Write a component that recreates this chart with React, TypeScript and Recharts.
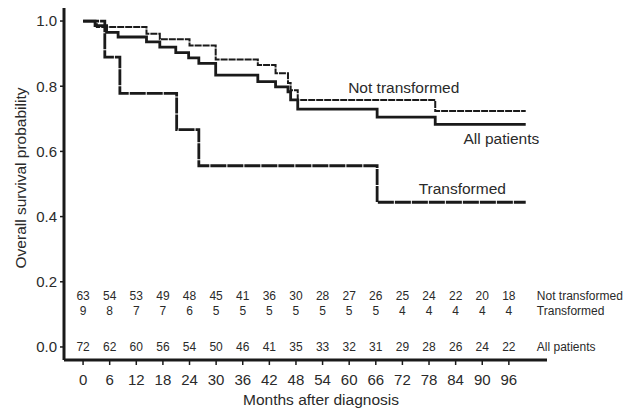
import { ComposedChart, Line, Scatter, XAxis, YAxis } from 'recharts'

// axis ticks
const MONTH_TICKS = [0, 6, 12, 18, 24, 30, 36, 42, 48, 54, 60, 66, 72, 78, 84, 90, 96]
const SURV_TICKS = [0, 0.2, 0.4, 0.6, 0.8, 1.0]

// Kaplan-Meier steps (month, survival)
const NOT_TRANS_MONTHS = [0, 2.7, 3.1, 14.3, 17.3, 24, 29.9, 39.4, 43.4, 46.2, 46.8, 48.4, 79.4, 99.8]
const NOT_TRANS_SURV = [1.0, 0.99, 0.982, 0.961, 0.944, 0.925, 0.882, 0.865, 0.84, 0.81, 0.788, 0.758, 0.724, 0.724]

const ALL_MONTHS = [0, 2.7, 5.3, 7.9, 14.3, 17.3, 20.9, 23.8, 26.1, 29.9, 39.4, 43.4, 46.2, 46.8, 48.4, 66.3, 79.4, 99.8]
const ALL_SURV = [1.0, 0.986, 0.965, 0.951, 0.936, 0.92, 0.903, 0.887, 0.87, 0.834, 0.814, 0.798, 0.783, 0.758, 0.73, 0.705, 0.683, 0.683]

const TRANS_MONTHS = [0, 4.9, 8.3, 21.1, 26.1, 66.3, 99.8]
const TRANS_SURV = [1.0, 0.889, 0.778, 0.667, 0.556, 0.444, 0.444]

// numbers at risk, one per month tick
const RISK_NOT_TRANS = [63, 54, 53, 49, 48, 45, 41, 36, 30, 28, 27, 26, 25, 24, 22, 20, 18]
const RISK_TRANS = [9, 8, 7, 7, 6, 5, 5, 5, 5, 5, 5, 5, 4, 4, 4, 4, 4]
const RISK_ALL = [72, 62, 60, 56, 54, 50, 46, 41, 35, 33, 32, 31, 29, 28, 26, 24, 22]

// curve annotations (month, survival, text)
const CURVE_LABELS = [
  { month: 72.3, surv: 0.797, text: 'Not transformed' },
  { month: 94.3, surv: 0.64, text: 'All patients' },
  { month: 85.5, surv: 0.487, text: 'Transformed' },
]

const FONT = '"Liberation Sans", Arial, sans-serif'
const INK = '#1a1a1a'
const TEXT = '#2a2a2a'

const toSteps = (months: number[], surv: number[]) =>
  months.map((m, i) => ({ month: m, surv: surv[i] }))

const riskRow = (counts: number[], level: number, name: string) =>
  MONTH_TICKS.map((m, i) => ({
    month: m,
    surv: level,
    n: counts[i],
    name: i === counts.length - 1 ? name : '',
  }))

const RiskCell = (props: any) => {
  const { cx, cy, payload } = props
  return (
    <g>
      <text x={cx} y={cy} textAnchor="middle" dominantBaseline="central" fontSize={12} fill={TEXT} fontFamily={FONT}>
        {payload.n}
      </text>
      {payload.name && (
        <text x={cx + 28} y={cy} textAnchor="start" dominantBaseline="central" fontSize={12} fill={TEXT} fontFamily={FONT}>
          {payload.name}
        </text>
      )}
    </g>
  )
}

const CurveLabel = (props: any) => (
  <text x={props.cx} y={props.cy} textAnchor="middle" dominantBaseline="central" fontSize={15.5} fill={TEXT} fontFamily={FONT}>
    {props.payload.text}
  </text>
)

export default function App() {
  return (
    <div style={{ position: 'absolute', left: 0, top: 0, width: 636, height: 411, background: '#fff', fontFamily: FONT }}>
      <ComposedChart width={636} height={411} margin={{ top: 8, right: 89, bottom: 21, left: 0 }}>
        <XAxis
          type="number"
          dataKey="month"
          domain={[-4.3, 104.6]}
          ticks={MONTH_TICKS}
          height={30}
          tickSize={5}
          tickMargin={9}
          stroke={INK}
          axisLine={{ stroke: INK, strokeWidth: 3 }}
          tickLine={{ stroke: INK, strokeWidth: 1.5 }}
          tick={{ fill: TEXT, fontSize: 15, fontFamily: FONT }}
        />
        <YAxis
          type="number"
          dataKey="surv"
          domain={[-0.04, 1.04]}
          ticks={SURV_TICKS}
          width={64}
          tickSize={4}
          tickMargin={3}
          tickFormatter={(v: number) => v.toFixed(1)}
          axisLine={{ stroke: INK, strokeWidth: 3 }}
          tickLine={{ stroke: INK, strokeWidth: 1.5 }}
          tick={{ fill: TEXT, fontSize: 15, fontFamily: FONT }}
        />
        <Line
          data={toSteps(TRANS_MONTHS, TRANS_SURV)}
          dataKey="surv"
          type="stepAfter"
          stroke={INK}
          strokeWidth={2.8}
          strokeDasharray="16 1"
          dot={false}
          isAnimationActive={false}
        />
        <Line
          data={toSteps(ALL_MONTHS, ALL_SURV)}
          dataKey="surv"
          type="stepAfter"
          stroke={INK}
          strokeWidth={2.8}
          dot={false}
          isAnimationActive={false}
        />
        <Line
          data={toSteps(NOT_TRANS_MONTHS, NOT_TRANS_SURV)}
          dataKey="surv"
          type="stepAfter"
          stroke={INK}
          strokeWidth={2}
          strokeDasharray="7 1"
          dot={false}
          isAnimationActive={false}
        />
        <Scatter data={riskRow(RISK_NOT_TRANS, 0.156, 'Not transformed')} dataKey="surv" shape={RiskCell} isAnimationActive={false} />
        <Scatter data={riskRow(RISK_TRANS, 0.11, 'Transformed')} dataKey="surv" shape={RiskCell} isAnimationActive={false} />
        <Scatter data={riskRow(RISK_ALL, 0.0, 'All patients')} dataKey="surv" shape={RiskCell} isAnimationActive={false} />
        <Scatter data={CURVE_LABELS} dataKey="surv" shape={CurveLabel} isAnimationActive={false} />
      </ComposedChart>
      <div style={{ position: 'absolute', left: 321, top: 400, transform: 'translate(-50%, -50%)', fontSize: 15.5, color: TEXT, whiteSpace: 'nowrap' }}>
        Months after diagnosis
      </div>
      <div style={{ position: 'absolute', left: 21, top: 178, transform: 'translate(-50%, -50%) rotate(-90deg)', fontSize: 15.5, color: TEXT, whiteSpace: 'nowrap' }}>
        Overall survival probability
      </div>
    </div>
  )
}
